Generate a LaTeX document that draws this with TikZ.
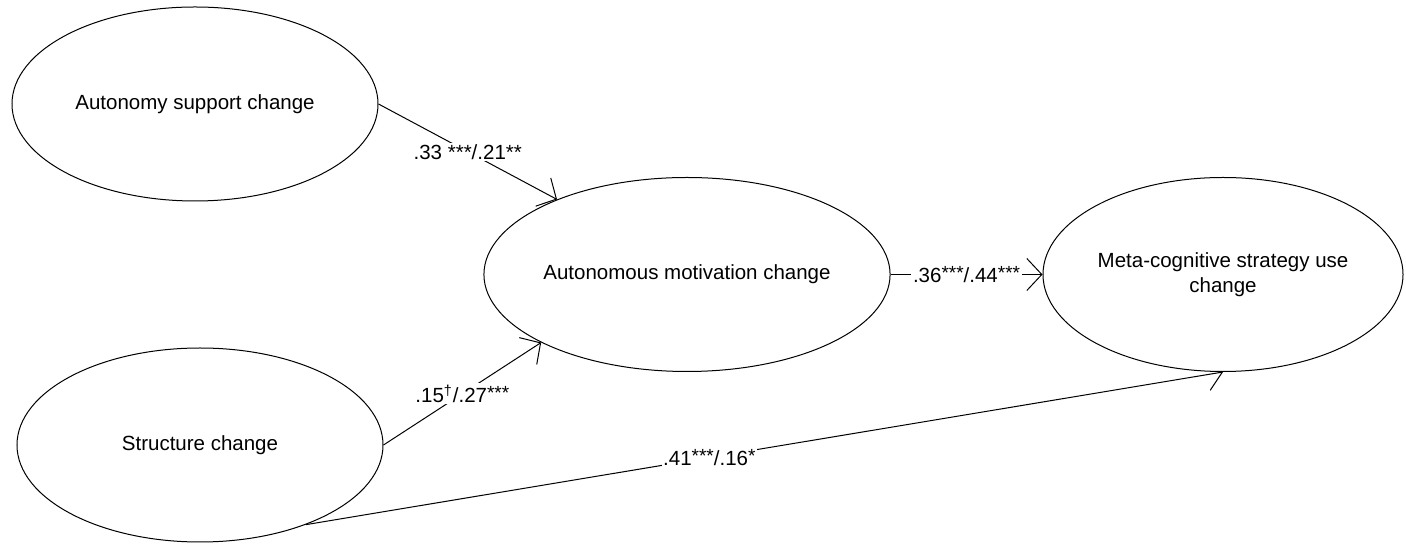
\documentclass[tikz,border=0pt]{standalone}
\usepackage{fontspec}
\setmainfont{Liberation Sans}
\usepackage{tikz}
\usetikzlibrary{shapes.geometric, arrows.meta, positioning, backgrounds}
\newcommand{\sigmark}[1]{\raisebox{1.5pt}{\fontsize{9.5}{10}\selectfont #1}}

\begin{document}
\begin{tikzpicture}[
    x=0.5pt, y=0.5pt,
    every node/.style={font=\fontsize{10.25}{12.5}\selectfont},
    latent/.style={ellipse, draw, fill=white, line width=0.5pt, minimum width=183pt, minimum height=97pt, inner sep=0pt, align=center},
    lbl/.style={fill=white, inner sep=0.8pt},
    arr/.style={-{Straight Barb[length=7.5pt, width=16pt]}, line width=0.5pt},
]
    \useasboundingbox (0,0) rectangle (1406,545);

    \node[latent] (autsup) at (195,441) {Autonomy support change};
    \node[latent] (struct) at (200,100) {Structure change};
    \node[latent] (amot) at (687,270.5) {Autonomous motivation change};
    \node[latent, minimum width=180pt] (meta) at (1223,270.5) {Meta-cognitive strategy use\\change};

    \begin{scope}[on background layer]
    \draw[arr] (autsup.east) -- node[lbl] {.33 ***/.21**} (amot.150);
    \draw[arr] (struct.east) -- node[lbl] {.15\textsuperscript{†}/.27\sigmark{***}} (amot.205);
    \draw[arr] (amot.east) -- node[lbl] {.36\sigmark{***}/.44\sigmark{***}} (meta.west);
    \draw[arr] (struct.-37) -- node[lbl, pos=0.44] {.41\sigmark{***}/.16\sigmark{*}} (meta.south);
    \end{scope}
\end{tikzpicture}
\end{document}
